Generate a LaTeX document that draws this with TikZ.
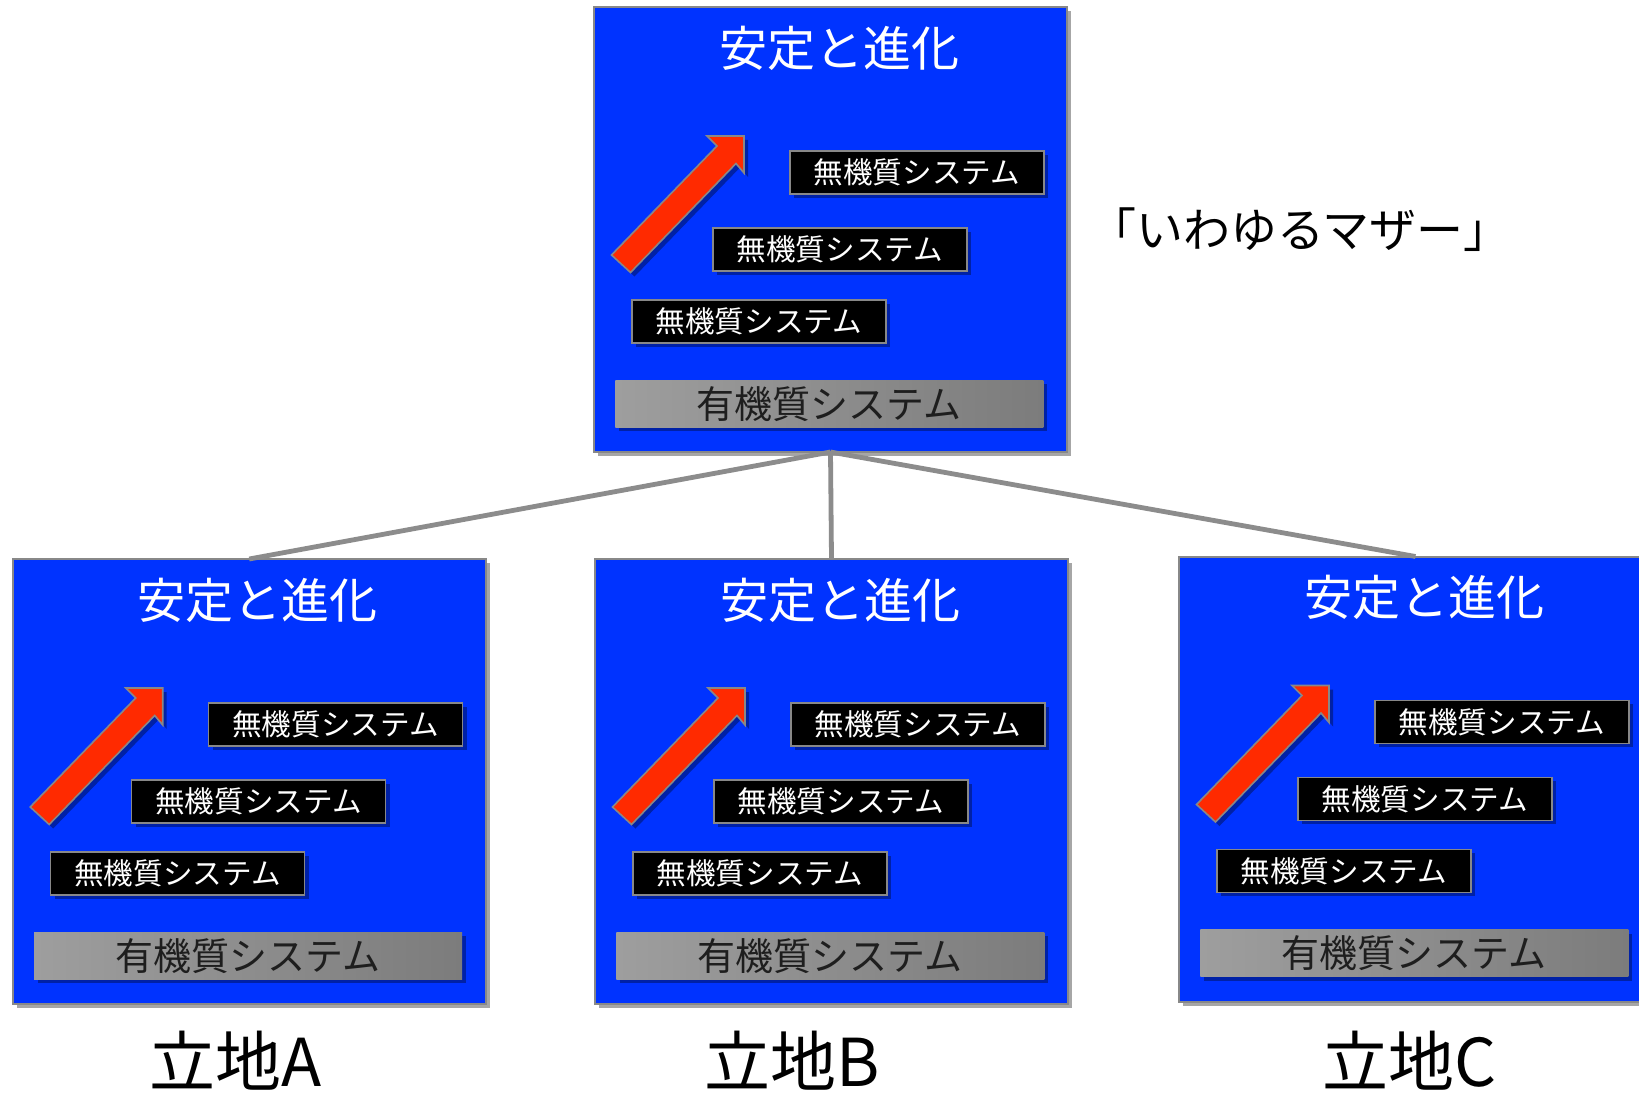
\documentclass[tikz,border=0pt]{standalone}
\usepackage{fontspec}
\setmainfont{Noto Sans CJK JP}
\usetikzlibrary{shadows}
\definecolor{boxblue}{RGB}{0,51,255}
\definecolor{edgegray}{RGB}{136,136,136}
\definecolor{arrowred}{RGB}{255,42,0}
\definecolor{graylight}{RGB}{158,158,158}
\definecolor{graydark}{RGB}{124,124,124}
\definecolor{linegray}{RGB}{140,140,140}
\definecolor{textdark}{RGB}{30,30,30}
\tikzset{
  shad/.style={drop shadow={shadow xshift=2pt,shadow yshift=-2pt,opacity=0.35,fill=black}},
  stagebox/.style={draw=edgegray,line width=1pt,fill=boxblue,minimum width=236.5pt,minimum height=222.5pt,inner sep=0pt,outer sep=0pt,anchor=north west,shad},
  titletext/.style={text=white,font=\fontsize{24pt}{28pt}\selectfont,inner sep=0pt},
  blackbox/.style={draw=edgegray,line width=0.8pt,fill=black,text=white,minimum width=127pt,minimum height=21.5pt,inner sep=0pt,anchor=north west,font=\fontsize{14.8pt}{17pt}\selectfont,shad},
  graybox/.style={draw=none,left color=graylight,right color=graydark,text=textdark,minimum width=214pt,minimum height=23.5pt,inner sep=0pt,anchor=north west,font=\fontsize{19pt}{22pt}\selectfont,shad},
  arrowbody/.style={fill=arrowred,draw=edgegray,line width=0.8pt,line join=miter,shad},
  connector/.style={draw=linegray,line width=2.4pt},
  sitelabel/.style={font=\fontsize{33pt}{38pt}\selectfont,text=black,inner sep=0pt,anchor=base},
  plaintext/.style={font=\fontsize{23.5pt}{28pt}\selectfont,text=black,inner sep=0pt}
}
\newcommand\stagepic[3]{%
\begin{scope}[shift={(#2,#3)}]
  \node[stagebox] (#1) at (0,0) {};
  \node[titletext] (#1-title) at (245,41) {安定と進化};
  \filldraw[arrowbody] (150,129) -- (113,129) -- (123,139) -- (17.5,248) -- (36.5,265.5) -- (142,156.5) -- (150,166) -- cycle;
  \node[blackbox] (#1-m1) at (195,143) {無機質システム};
  \node[blackbox] (#1-m2) at (118,220) {無機質システム};
  \node[blackbox] (#1-m3) at (37,292) {無機質システム};
  \node[graybox] (#1-o) at (21,373) {有機質システム};
\end{scope}}
\begin{document}
\begin{tikzpicture}[x=0.5pt,y=-0.5pt]
  \useasboundingbox[fill=white] (0,0) rectangle (1639,1102);
  \stagepic{top}{594}{7}
  \stagepic{A}{12.7}{559}
  \stagepic{B}{595}{559}
  \stagepic{C}{1179}{556.5}
  \draw[connector] (top.south) -- (A.north);
  \draw[connector] (top.south) -- (B.north);
  \draw[connector] (top.south) -- (C.north);
  \node[plaintext] (mother) at (1300,230) {「いわゆるマザー」};
  \node[sitelabel] (la) at (236,1086) {立地A};
  \node[sitelabel] (lb) at (792,1086) {立地B};
  \node[sitelabel] (lc) at (1410,1086) {立地C};
\end{tikzpicture}
\end{document}
